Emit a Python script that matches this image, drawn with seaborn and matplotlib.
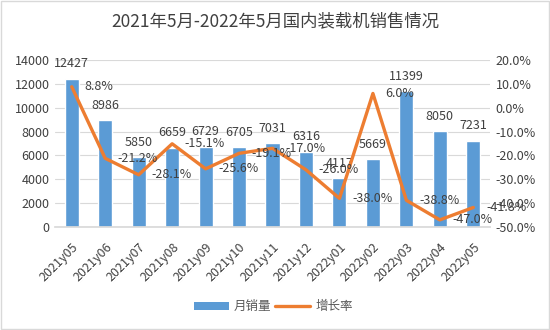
import matplotlib
matplotlib.use("Agg")
import matplotlib.pyplot as plt
import seaborn as sns
import numpy as np
import pandas as pd
from matplotlib.ticker import FuncFormatter, MultipleLocator
from matplotlib.lines import Line2D
from matplotlib.patches import Patch

months = ["2021y05", "2021y06", "2021y07", "2021y08", "2021y09", "2021y10", "2021y11",
          "2021y12", "2022y01", "2022y02", "2022y03", "2022y04", "2022y05"]
sales = [12427, 8986, 5850, 6659, 6729, 6705, 7031, 6316, 4117, 5669, 11399, 8050, 7231]
growth = [8.8, -21.2, -28.1, -15.1, -25.6, -19.1, -17.0, -26.0, -38.0, 6.0, -38.8, -47.0, -41.8]

title = "2021年5月-2022年5月国内装载机销售情况"
bar_label = "月销量"
line_label = "增长率"

sns.set_theme(style="white")
plt.rcParams['font.family'] = ['Noto Sans CJK SC', 'DejaVu Sans']

BLUE = "#5B9BD5"
ORANGE = "#ED7D31"
TXT = "#404040"

df = pd.DataFrame({"month": months, "sales": sales, "growth": growth,
                   "pos": np.arange(len(months))})

fig = plt.figure(figsize=(5.5, 3.3), dpi=100)
ax = fig.add_axes([0.1, 0.312, 0.791, 0.506])

sns.barplot(data=df, x="month", y="sales", color=BLUE, width=0.42, ax=ax,
            saturation=1, zorder=2)
ax.set_ylim(0, 14000)
ax.yaxis.set_major_locator(MultipleLocator(2000))
ax.grid(axis="y", color="#D9D9D9", linewidth=0.8, zorder=0)
ax.set_axisbelow(True)
for s in ["top", "right", "left"]:
    ax.spines[s].set_visible(False)
ax.spines["bottom"].set_color("#D9D9D9")
ax.set_xlabel("")
ax.set_ylabel("")
ax.tick_params(axis="y", labelsize=9, colors=TXT, length=0, pad=4)
ax.tick_params(axis="x", labelsize=9, colors=TXT, length=0, pad=10)
plt.setp(ax.get_xticklabels(), rotation=45, ha="right", rotation_mode="anchor")
ax.set_xlim(-0.5, len(months) - 0.5)

for i, v in enumerate(sales):
    ax.text(i, v + 700, f"{v}", ha="center", va="bottom", fontsize=9, color=TXT)

ax2 = ax.twinx()
sns.lineplot(data=df, x="pos", y="growth", color=ORANGE, linewidth=2.4, ax=ax2)
ax2.set_ylim(-50, 20)
ax2.yaxis.set_major_locator(MultipleLocator(10))
ax2.yaxis.set_major_formatter(FuncFormatter(lambda v, p: f"{v:.1f}%"))
for s in ["top", "right", "left", "bottom"]:
    ax2.spines[s].set_visible(False)
ax2.set_ylabel("")
ax2.set_xlabel("")
ax2.tick_params(axis="y", labelsize=9, colors=TXT, length=0, pad=4)
ax2.set_xlim(-0.5, len(months) - 0.5)

for i, v in enumerate(growth):
    ax2.text(i + 0.38, v, f"{v:.1f}%", ha="left", va="center", fontsize=9, color=TXT)

fig.text(0.5, 0.935, title, ha="center", va="center", fontsize=12.5, color=TXT)

handles = [Patch(facecolor=BLUE, edgecolor="none"),
           Line2D([0], [0], color=ORANGE, linewidth=2.4)]
fig.legend(handles, [bar_label, line_label], loc="center", bbox_to_anchor=(0.497, 0.07),
           ncol=2, frameon=False, fontsize=9, handlelength=2.8, columnspacing=0.3,
           handletextpad=0.4, labelcolor="#595959")

fig.patches.append(plt.Rectangle((0.002, 0.003), 0.996, 0.994, transform=fig.transFigure,
                                 fill=False, edgecolor="#D9D9D9", linewidth=1))

fig.savefig("out.png", dpi=100)
